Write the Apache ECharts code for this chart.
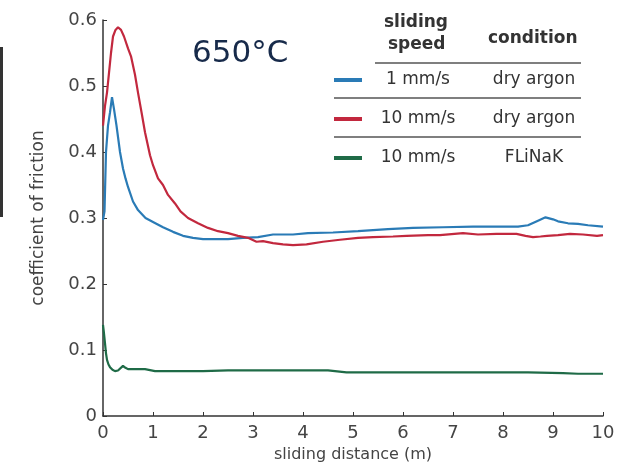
<!DOCTYPE html>
<html>
<head>
<meta charset="utf-8">
<script src="https://cdn.jsdelivr.net/npm/echarts@6/dist/echarts.min.js"></script>
<style>
html,body{margin:0;padding:0;background:#fff;}
#chart{width:620px;height:469px;}
</style>
</head>
<body>
<div id="chart"></div>
<script>
// ---- data ----
const xTicks = [0,1,2,3,4,5,6,7,8,9,10];
const yTicks = [0,0.1,0.2,0.3,0.4,0.5,0.6];

// 1 mm/s, dry argon
const blueDist = [0,0.03,0.06,0.1,0.14,0.18,0.22,0.27,0.34,0.4,0.45,0.5,0.6,0.7,0.85,1.0,1.2,1.4,1.6,1.8,2.0,2.2,2.5,2.8,3.1,3.4,3.8,4.1,4.6,5.1,5.7,6.2,6.8,7.4,8.0,8.3,8.5,8.7,8.85,9.0,9.1,9.3,9.5,9.7,10.0];
const blueCof  = [0.297,0.31,0.40,0.44,0.46,0.483,0.465,0.44,0.40,0.375,0.36,0.347,0.325,0.312,0.30,0.294,0.286,0.279,0.273,0.27,0.268,0.268,0.268,0.27,0.271,0.275,0.275,0.277,0.278,0.28,0.283,0.285,0.286,0.287,0.287,0.287,0.289,0.296,0.301,0.298,0.295,0.292,0.291,0.289,0.287];

// 10 mm/s, dry argon
const redDist = [0,0.04,0.08,0.12,0.16,0.2,0.25,0.3,0.36,0.42,0.5,0.56,0.64,0.7,0.78,0.84,0.94,1.0,1.1,1.2,1.3,1.44,1.55,1.7,1.9,2.1,2.3,2.5,2.7,2.9,3.07,3.2,3.4,3.6,3.8,4.07,4.4,4.74,5.1,5.4,5.8,6.07,6.5,6.74,7.2,7.5,7.87,8.27,8.45,8.6,8.75,8.88,9.1,9.34,9.6,9.88,10.0];
const redCof  = [0.44,0.47,0.49,0.52,0.55,0.575,0.585,0.589,0.585,0.575,0.557,0.545,0.517,0.49,0.456,0.43,0.395,0.38,0.36,0.35,0.335,0.322,0.31,0.30,0.292,0.285,0.28,0.277,0.273,0.27,0.264,0.265,0.262,0.26,0.259,0.26,0.264,0.267,0.27,0.271,0.272,0.273,0.274,0.274,0.277,0.275,0.276,0.276,0.273,0.271,0.272,0.273,0.274,0.276,0.275,0.273,0.274];

// 10 mm/s, FLiNaK
const greenDist = [0,0.02,0.04,0.06,0.08,0.11,0.14,0.19,0.24,0.3,0.34,0.4,0.45,0.5,0.7,0.84,1.04,1.5,2.0,2.5,3.0,3.5,4.0,4.5,4.87,5.5,6.5,7.5,8.5,9.2,9.5,10.0];
const greenCof  = [0.138,0.125,0.11,0.095,0.085,0.078,0.074,0.07,0.068,0.069,0.071,0.076,0.073,0.071,0.071,0.071,0.068,0.068,0.068,0.069,0.069,0.069,0.069,0.069,0.066,0.066,0.066,0.066,0.066,0.065,0.064,0.064];

const seriesNames = ['1 mm/s dry argon','10 mm/s dry argon','10 mm/s FLiNaK'];
const legendSpeed = ['1 mm/s','10 mm/s','10 mm/s'];
const legendCond = ['dry argon','dry argon','FLiNaK'];
const colors = ['#2a7bb6','#c2283e','#1f6b47'];

const zip = (a,b) => a.map((v,i)=>[v,b[i]]);
const FONT = 'DejaVu Sans';

const chart = echarts.init(document.getElementById('chart'), null, {renderer:'canvas'});

// legend table graphics
const legendEls = [];
legendEls.push({type:'text', left:384, top:14, style:{text:'sliding', font:'bold 17px "DejaVu Sans"', fill:'#333'}});
legendEls.push({type:'text', left:388, top:36, style:{text:'speed', font:'bold 17px "DejaVu Sans"', fill:'#333'}});
legendEls.push({type:'text', left:488, top:30, style:{text:'condition', font:'bold 17px "DejaVu Sans"', fill:'#333'}});
legendEls.push({type:'line', shape:{x1:375,y1:63,x2:581,y2:63}, style:{stroke:'#555', lineWidth:1.5}});
const rowY = [80,119,158];
for (let i=0;i<3;i++){
  legendEls.push({type:'line', shape:{x1:334,y1:rowY[i],x2:362,y2:rowY[i]}, style:{stroke:colors[i], lineWidth:4}});
  legendEls.push({type:'text', x:418, y:rowY[i], style:{text:legendSpeed[i], font:'17px "DejaVu Sans"', fill:'#333', align:'center', verticalAlign:'middle'}});
  legendEls.push({type:'text', x:534, y:rowY[i], style:{text:legendCond[i], font:'17px "DejaVu Sans"', fill:'#333', align:'center', verticalAlign:'middle'}});
  if (i<2) legendEls.push({type:'line', shape:{x1:334,y1:rowY[i]+18,x2:581,y2:rowY[i]+18}, style:{stroke:'#555', lineWidth:1.5}});
}
legendEls.push({type:'text', x:192, y:54, style:{text:'650°C', font:'31px "DejaVu Sans"', fill:'#172a4a', verticalAlign:'middle'}});
legendEls.push({type:'rect', shape:{x:0,y:47,width:3,height:170}, style:{fill:'#333'}});

const option = {
  animation:false,
  backgroundColor:'#fff',
  grid:{left:103,right:17,top:20,bottom:53},
  xAxis:{
    type:'value', min:xTicks[0], max:xTicks[xTicks.length-1], interval:1,
    name:'sliding distance (m)', nameLocation:'middle', nameGap:31,
    nameTextStyle:{fontFamily:FONT,fontSize:16,color:'#444'},
    axisLine:{lineStyle:{color:'#333',width:1.5}},
    axisTick:{inside:true,length:4,lineStyle:{color:'#333'}},
    axisLabel:{fontFamily:FONT,fontSize:18,color:'#444',margin:8},
    splitLine:{show:false}
  },
  yAxis:{
    type:'value', min:yTicks[0], max:yTicks[yTicks.length-1], interval:0.1,
    name:'coefficient of friction', nameLocation:'middle', nameGap:56, nameRotate:90,
    nameTextStyle:{fontFamily:FONT,fontSize:17,color:'#444'},
    axisLine:{show:true,lineStyle:{color:'#333',width:1.5}},
    axisTick:{show:true,inside:true,length:4,lineStyle:{color:'#333'}},
    axisLabel:{fontFamily:FONT,fontSize:18,color:'#444',margin:6,
      formatter:v=> v===0?'0':v.toFixed(1)},
    splitLine:{show:false}
  },
  series:[
    {name:seriesNames[0],type:'line',data:zip(blueDist,blueCof),showSymbol:false,lineStyle:{color:colors[0],width:2.2},itemStyle:{color:colors[0]}},
    {name:seriesNames[1],type:'line',data:zip(redDist,redCof),showSymbol:false,lineStyle:{color:colors[1],width:2.2},itemStyle:{color:colors[1]}},
    {name:seriesNames[2],type:'line',data:zip(greenDist,greenCof),showSymbol:false,lineStyle:{color:colors[2],width:2.2},itemStyle:{color:colors[2]}}
  ],
  graphic:legendEls
};
chart.setOption(option);
</script>
</body>
</html>
